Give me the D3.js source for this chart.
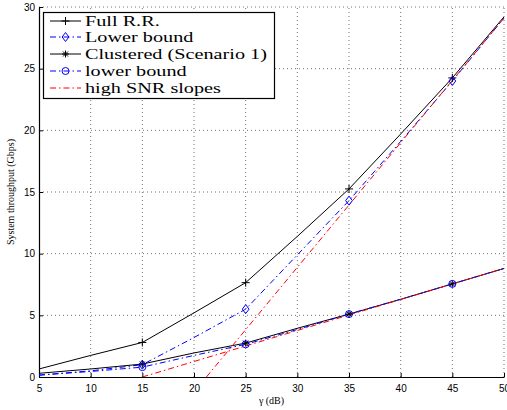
<!DOCTYPE html>
<html><head><meta charset="utf-8">
<script src="https://cdn.jsdelivr.net/npm/d3@7"></script>
<style>
body{margin:0;background:#fff;}
svg{display:block;}
.tick text{font-family:"Liberation Sans",Arial,sans-serif;font-size:10px;fill:#000;}
</style></head><body>
<svg id="c" width="507" height="410"></svg>
<script>
const gamma = [5,10,15,20,25,30,35,40,45,50];
const fullRR = [0.65,1.75,2.8,5.2,7.65,11.4,15.25,19.7,24.25,29.2];
const lowerFull = [0.15,0.5,1.0,3.2,5.5,9.9,14.3,19.1,24.0,29.1];
const clustered = [0.3,0.65,1.05,1.95,2.75,3.95,5.1,6.3,7.55,8.8];
const lowerClustered = [0.15,0.45,0.8,1.75,2.65,3.85,5.1,6.3,7.55,8.8];
const slopeShallowX = [15,50], slopeShallowY = [0,8.8];
const slopeSteepX = [21.2,50], slopeSteepY = [0,29.1];
const markerGamma = [15,25,35,45];
const xTicks = [5,10,15,20,25,30,35,40,45,50];
const yTicks = [0,5,10,15,20,25,30];
const legendLabels = ["Full R.R.","Lower bound","Clustered (Scenario 1)","lower bound","high SNR slopes"];

const svg = d3.select("#c");
const L=39,R=504,T=7,B=377;
const x = d3.scaleLinear().domain([5,50]).range([L,R]);
const y = d3.scaleLinear().domain([0,30]).range([B,T]);

// grid
const g = svg.append("g");
g.selectAll(".gx").data(xTicks.slice(1)).enter().append("line")
 .attr("x1",d=>x(d)).attr("x2",d=>x(d)).attr("y1",B).attr("y2",T)
 .attr("stroke","#000").attr("stroke-opacity",0.55).attr("stroke-dasharray","1,3").attr("stroke-width",1);
g.selectAll(".gy").data(yTicks.slice(1)).enter().append("line")
 .attr("y1",d=>y(d)).attr("y2",d=>y(d)).attr("x1",L).attr("x2",R)
 .attr("stroke","#000").attr("stroke-opacity",0.55).attr("stroke-dasharray","1,3").attr("stroke-width",1);

const xa = svg.append("g").attr("transform",`translate(0,${B})`)
 .call(d3.axisBottom(x).tickValues(xTicks).tickSizeInner(-4).tickSizeOuter(0).tickPadding(8));
const ya = svg.append("g").attr("transform",`translate(${L},0)`)
 .call(d3.axisLeft(y).tickValues(yTicks).tickSizeInner(-4).tickSizeOuter(0).tickPadding(4));
[xa,ya].forEach(a=>{a.select(".domain").attr("stroke","#000").attr("stroke-width",1.2);a.selectAll(".tick line").attr("stroke","#000");});

const clip = svg.append("clipPath").attr("id","pc").append("rect").attr("x",L).attr("y",T-1).attr("width",R-L+2).attr("height",B-T+1);
const plot = svg.append("g").attr("clip-path","url(#pc)");
const line = d3.line().x(d=>x(d[0])).y(d=>y(d[1]));
const dashdot = "6,3,1.5,3";

function drawSeries(xs,ys,color,dash,w){
  plot.append("path").datum(xs.map((v,i)=>[v,ys[i]])).attr("d",line)
   .attr("fill","none").attr("stroke",color).attr("stroke-width",w||1).attr("stroke-dasharray",dash||null);
}
function plus(sel,cx,cy,s,color){sel.append("path").attr("d",`M${cx-s},${cy}H${cx+s}M${cx},${cy-s}V${cy+s}`).attr("stroke",color).attr("stroke-width",1).attr("fill","none");}
function star(sel,cx,cy,s,color){const d=s*0.72;sel.append("path").attr("d",`M${cx-s},${cy}H${cx+s}M${cx},${cy-s}V${cy+s}M${cx-d},${cy-d}L${cx+d},${cy+d}M${cx-d},${cy+d}L${cx+d},${cy-d}`).attr("stroke",color).attr("stroke-width",1).attr("fill","none");}
function diamond(sel,cx,cy,s,color){sel.append("path").attr("d",`M${cx},${cy-s}L${cx+s*0.75},${cy}L${cx},${cy+s}L${cx-s*0.75},${cy}Z`).attr("stroke",color).attr("stroke-width",1).attr("fill","none");}
function circ(sel,cx,cy,r,color){sel.append("circle").attr("cx",cx).attr("cy",cy).attr("r",r).attr("stroke",color).attr("stroke-width",1).attr("fill","none");}

drawSeries(gamma,fullRR,"#000",null,1);
drawSeries(gamma,lowerFull,"#0000ff",dashdot,1);
drawSeries(gamma,clustered,"#000",null,1);
drawSeries(gamma,lowerClustered,"#0000ff",dashdot,1);
drawSeries(slopeShallowX,slopeShallowY,"#ff0000",dashdot,1);
drawSeries(slopeSteepX,slopeSteepY,"#ff0000",dashdot,1);

const mk = svg.append("g");
gamma.forEach((gv,i)=>{
  if(markerGamma.indexOf(gv)<0) return;
  plus(mk,x(gv),y(fullRR[i]),4,"#000");
  diamond(mk,x(gv),y(lowerFull[i]),4.5,"#0000ff");
  star(mk,x(gv),y(clustered[i]),3.5,"#000");
  circ(mk,x(gv),y(lowerClustered[i]),3.5,"#0000ff");
});

// labels
svg.append("text").attr("x",(L+R)/2).attr("y",404).attr("text-anchor","middle")
 .style("font-family","'Liberation Serif','DejaVu Serif',serif").style("font-size","10px").text("γ (dB)");
svg.append("text").attr("transform",`translate(14,${(T+B)/2}) rotate(-90)`).attr("text-anchor","middle")
 .style("font-family","'Liberation Serif','DejaVu Serif',serif").style("font-size","10px").text("System throughput (Gbps)");

// legend
const lg = svg.append("g");
lg.append("rect").attr("x",43.5).attr("y",12.5).attr("width",231).attr("height",86).attr("fill","#fff").attr("stroke","#000").attr("stroke-width",1.2);
const rowsY = [21,37,54,71,88];
const styles = [
 {c:"#000",dash:null,m:"plus"},
 {c:"#0000ff",dash:dashdot,m:"diamond"},
 {c:"#000",dash:null,m:"star"},
 {c:"#0000ff",dash:dashdot,m:"circle"},
 {c:"#ff0000",dash:dashdot,m:null}];
const texts = [];
legendLabels.forEach((lab,i)=>{
  const cy=rowsY[i], st=styles[i];
  lg.append("line").attr("x1",50).attr("x2",81).attr("y1",cy).attr("y2",cy).attr("stroke",st.c).attr("stroke-width",1).attr("stroke-dasharray",st.dash);
  if(st.m==="plus") plus(lg,65.5,cy,4,st.c);
  if(st.m==="diamond") diamond(lg,65.5,cy,4.5,st.c);
  if(st.m==="star") star(lg,65.5,cy,3.5,st.c);
  if(st.m==="circle") circ(lg,65.5,cy,3.5,st.c);
  const t = lg.append("text").attr("x",0).attr("y",0)
    .style("font-family","'Liberation Serif','DejaVu Serif',serif").style("font-size","15px").text(lab);
  texts.push({t,cy});
});
const wRef = texts[2].t.node().getComputedTextLength();
const sx = 182 / wRef;
texts.forEach(o=>o.t.attr("transform",`translate(85,${o.cy+5}) scale(${sx},1)`));
</script></body></html>
